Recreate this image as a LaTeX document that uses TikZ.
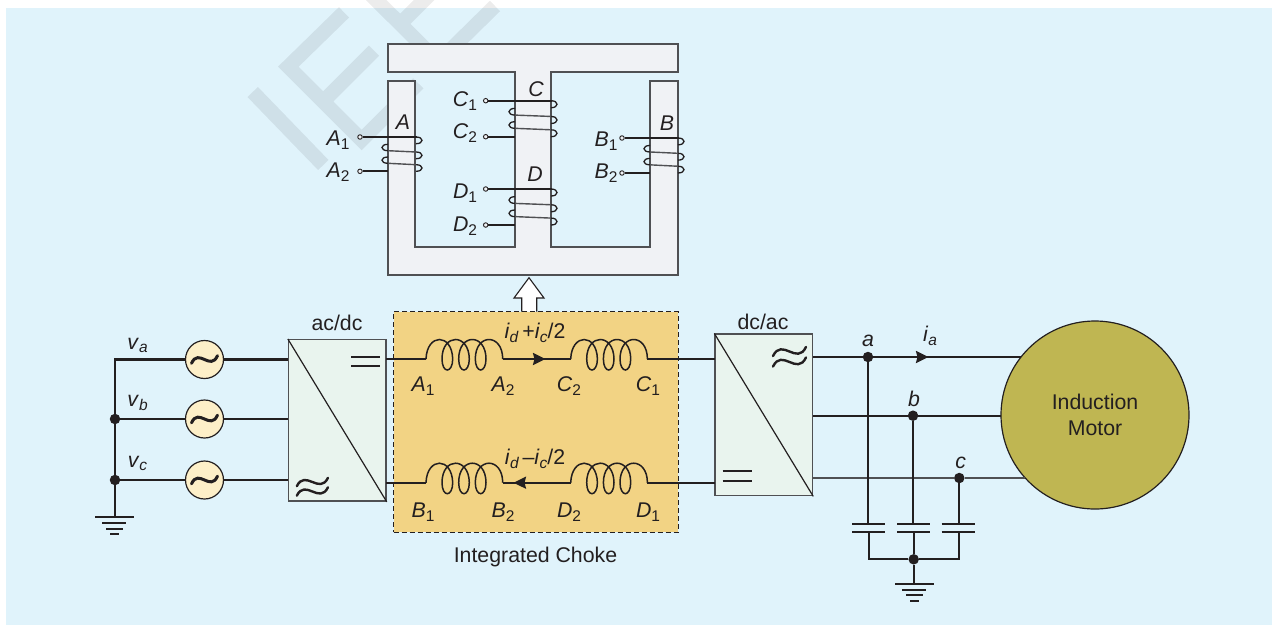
\documentclass[tikz,border=0pt]{standalone}
\usepackage{fontspec}
\setmainfont{Liberation Sans}
\usetikzlibrary{arrows.meta}
\definecolor{bgblue}{HTML}{E0F3FB}
\definecolor{inkc}{HTML}{231F20}
\definecolor{corefill}{HTML}{F0F2F5}
\definecolor{corerim}{HTML}{4F5053}
\definecolor{chokefill}{HTML}{F2D384}
\definecolor{convfill}{HTML}{E9F4EE}
\definecolor{srcfill}{HTML}{FDEFC8}
\definecolor{motorfill}{HTML}{BFB652}
\newcommand\lowtxt[1]{\raisebox{-0.32ex}{\fontsize{15.5}{16}\selectfont #1}}
\newcommand\symb[2]{\textit{#1}\lowtxt{#2}}
\newcommand\symi[2]{\textit{#1}\lowtxt{\textit{#2}}}
\tikzset{
  txt/.style={text=inkc,inner sep=0pt,font=\fontsize{21.3}{26}\selectfont},
  wire/.style={draw=inkc,line width=2.2pt},
  thinwire/.style={draw=corerim,line width=1.4pt},
  jdot/.style={circle,fill=inkc,inner sep=0pt,minimum size=10.5pt},
  termdot/.style={circle,draw=inkc,fill=corefill,line width=.9pt,inner sep=0pt,minimum size=4.5pt},
  srcnode/.style={circle,draw=inkc,fill=srcfill,line width=1.2pt,inner sep=0pt,minimum size=38pt},
  conv/.style={rectangle,draw=corerim,fill=convfill,line width=1.4pt,inner sep=0pt,minimum width=97.5pt,minimum height=161.5pt},
  wave/.style={draw=inkc,line width=3pt,line cap=round},
  wavethin/.style={draw=inkc,line width=2.4pt,line cap=round},
  tip/.style={-{Stealth[length=12.5pt,width=12pt,inset=1.5pt]}},
  wm/.style={draw=black,opacity=.075,line width=14.5pt,line join=miter},
}
\newcommand\wavy[5][wave]{\draw[#1] (#2-#4,#3+.7*#5) .. controls (#2-.45*#4,#3-2.2*#5) and (#2+.45*#4,#3+2.2*#5) .. (#2+#4,#3-.7*#5);}
\newcommand\coil[3]{\begin{scope}[shift={(#2,#3)}]
  \coordinate (#1in) at (0,0); \coordinate (#1out) at (76.7,0);
  \draw[draw=inkc,line width=1.5pt] (0,0)
   .. controls (1,-26) and (26,-26) .. (26.7,0)
   .. controls (26.7,7) and (24,11) .. (21.3,11)
   .. controls (18.5,11) and (16,7) .. (16,0)
   .. controls (16,-26) and (43,-26) .. (43.3,0)
   .. controls (43.3,7) and (40.6,11) .. (38,11)
   .. controls (35.2,11) and (32.7,7) .. (32.7,0)
   .. controls (32.7,-26) and (60,-26) .. (60,0)
   .. controls (60,7) and (57.3,11) .. (54.7,11)
   .. controls (52,11) and (49.3,7) .. (49.3,0)
   .. controls (49.3,-26) and (76.7,-26) .. (76.7,0);
\end{scope}}
\newcommand\winding[6]{\begin{scope}[shift={(0,#4)},yscale=#6]
  \draw[draw=inkc,line width=1.3pt]
    (#3,0) .. controls (#3+8,0) and (#3+8,6.7) .. (#3,6.7)
    (#2,7.3) .. controls (#2-8,7.3) and (#2-8,13.7) .. (#2,13.7)
    (#3,15) .. controls (#3+8,15) and (#3+8,21.7) .. (#3,21.7)
    (#2,20) .. controls (#2-8,20) and (#2-8,26.3) .. (#2,26.3)
    (#3,27.7) .. controls (#3+8,27.7) and (#3+8,34.3) .. (#3,34.3);
  \draw[draw=corerim,line width=1.4pt] (#2,13.7) -- (#3,15) (#2,26.3) -- (#3,27.7);
  \node[termdot] (#1t1) at (#5,0) {};
  \node[termdot] (#1t2) at (#5,34.3) {};
  \coordinate (#1e1) at (#3+1,0);
  \coordinate (#1e2) at (#2,34.3);
\end{scope}
\draw[wire] (#1t1) -- (#1e1);
\draw[wire] (#1t2) -- (#1e2);}
\begin{document}
\begin{tikzpicture}[x=1pt,y=-1pt]
\useasboundingbox (0,0) rectangle (1272,625);
\fill[white] (0,0) rectangle (1272,625);
\fill[bgblue] (6,8) rectangle (1272,625);
\draw[wm] (252.7,92) -- (323.3,165)
  (344,12.3) -- (288.3,66.7) -- (361.7,140) -- (418.3,83.3)
  (323.2,101.5) -- (374,50.7)
  (360,-16) -- (438.3,61.7) -- (495,6)
  (400.3,23.7) -- (436,-12);
\filldraw[fill=corefill,draw=corerim,line width=1.4pt,line join=miter]
 (388,44) -- (678,44) -- (678,72) -- (551,72) -- (551,247) -- (650,247) -- (650,81) -- (678,81)
 -- (678,275) -- (388,275) -- (388,81) -- (415,81) -- (415,247) -- (515,247) -- (515,72) -- (388,72) -- cycle;
\winding{wa}{388}{416}{137}{360}{1}
\winding{wc}{515}{551}{100.7}{485.7}{1.05}
\winding{wd}{515}{551}{189}{485.7}{1.05}
\winding{wb}{650}{678}{138}{622}{1.02}
\node[txt] (cA) at (403,122) {\textit{A}};
\node[txt] (cC) at (536,89) {\textit{C}};
\node[txt] (cD) at (535,174) {\textit{D}};
\node[txt] (cB) at (667,123) {\textit{B}};
\node[txt] (lA1) at (338,140) {\symb{A}{1}};
\node[txt] (lA2) at (338,172) {\symb{A}{2}};
\node[txt] (lC1) at (465,101) {\symb{C}{1}};
\node[txt] (lC2) at (465,133) {\symb{C}{2}};
\node[txt] (lD1) at (465,193) {\symb{D}{1}};
\node[txt] (lD2) at (465,226) {\symb{D}{2}};
\node[txt] (lB1) at (606,141) {\symb{B}{1}};
\node[txt] (lB2) at (606,173) {\symb{B}{2}};
\filldraw[fill=white,draw=inkc,line width=1.1pt,line join=miter] (521.7,311.7) -- (521.7,298) -- (514,298) -- (529,277.7) -- (544,298) -- (536.7,298) -- (536.7,311.7);
\node[rectangle,draw=inkc,fill=chokefill,line width=1pt,dash pattern=on 5pt off 3pt,inner sep=0pt,minimum width=284.5pt,minimum height=220.5pt] (choke) at (535.9,421.9) {};
\node[txt] (chokelab) at (535.5,557) {Integrated Choke};
\coordinate (gl) at (115,517);
\node[srcnode] (sa) at (204.5,359.5) {};
\node[srcnode] (sb) at (204.5,419) {};
\node[srcnode] (sc) at (204.5,480) {};
\coordinate (bustop) at (115,359.5);
\node[jdot] (jb) at (115,419) {};
\node[jdot] (jc) at (115,480) {};
\draw[wire] (115,358.4) -- (jb) -- (jc) -- (gl);
\draw[wire] (95,517) -- (134,517) (102,523) -- (126,523) (106,529) -- (123,529) (110,534) -- (119,534);
\wavy{204.5}{359.5}{13}{5.5}
\wavy{204.5}{419}{13}{5.5}
\wavy{204.5}{480}{13}{5.5}
\node[conv] (acdc) at (337.3,420.4) {};
\node[conv] (dcac) at (763.8,414.9) {};
\draw[draw=inkc,line width=1.2pt] (acdc.north west) -- (acdc.south east);
\draw[draw=inkc,line width=1.2pt] (dcac.north west) -- (dcac.south east);
\draw[wire] (bustop) -- (sa);
\draw[wire] (jb) -- (sb);
\draw[wire] (jc) -- (sc);
\draw[wire] (sa.east) -- (sa.east -| acdc.west);
\draw[wire] (sb.east) -- (sb.east -| acdc.west);
\draw[wire] (sc.east) -- (sc.east -| acdc.west);
\draw[wire] (351,356.7) -- (380,356.7) (351,366) -- (380,366);
\wavy[wavethin]{312.4}{482}{15.6}{6}
\wavy[wavethin]{312.4}{491.5}{15.6}{6}
\draw[wire] (722.7,470.7) -- (752,470.7) (722.7,480.7) -- (752,480.7);
\wavy[wavethin]{789.5}{351.5}{16.5}{6.5}
\wavy[wavethin]{789.5}{362}{16.5}{6.5}
\node[txt] (acl) at (337,322.5) {ac/dc};
\node[txt] (dcl) at (763,321.5) {dc/ac};
\node[txt] (va) at (137.5,345.5) {\symi{v}{a}};
\node[txt] (vb) at (137.5,403) {\symi{v}{b}};
\node[txt] (vc) at (137.5,463.5) {\symi{v}{c}};
\coil{ca}{426}{359}
\coil{cc}{570.7}{359}
\coil{cb}{426}{482.7}
\coil{cd}{570.7}{482.7}
\draw[wire] (386,359) -- (cain);
\draw[wire] (caout) -- (ccin);
\draw[wire] (ccout) -- (714.7,359);
\draw[wire] (386,482.7) -- (cbin);
\draw[wire] (cbout) -- (cdin);
\draw[wire] (cdout) -- (714.7,482.7);
\coordinate (tipt) at (545.5,359);
\coordinate (tipb) at (513.5,482.7);
\draw[wire,tip] (caout) -- (tipt);
\draw[wire,tip] (cdin) -- (tipb);
\node[txt] (n1) at (423,386) {\symb{A}{1}};
\node[txt] (n2) at (503,386) {\symb{A}{2}};
\node[txt] (n3) at (569,386) {\symb{C}{2}};
\node[txt] (n4) at (648,386) {\symb{C}{1}};
\node[txt] (n5) at (423,512) {\symb{B}{1}};
\node[txt] (n6) at (503,512) {\symb{B}{2}};
\node[txt] (n7) at (569,512) {\symb{D}{2}};
\node[txt] (n8) at (648,512) {\symb{D}{1}};
\node[txt] (it) at (535,333) {\symi{i}{d}\,+\symi{i}{c}/2};
\node[txt] (ib) at (535,459) {\symi{i}{d}\,–\symi{i}{c}/2};
\node[circle,draw=inkc,fill=motorfill,line width=1.2pt,inner sep=0pt,minimum size=188pt,txt,align=center] (mot) at (1095,415) {Induction\\Motor};
\node[jdot] (ja) at (868,357) {};
\node[jdot] (jbb) at (913,415.7) {};
\node[jdot] (jcc) at (959.3,478) {};
\coordinate (ma) at (1021,357);
\coordinate (mb) at (1001,415.7);
\coordinate (mc) at (1025,478);
\draw[wire] (813,357) -- (ja) -- (ma);
\draw[wire] (813,415.7) -- (jbb) -- (mb);
\draw[thinwire] (813,478) -- (jcc) -- (mc);
\coordinate (tipi) at (928.5,357);
\draw[wire,tip] (ja) -- (tipi);
\node[txt] (ial) at (930,336) {\symi{i}{a}};
\node[txt] (al) at (868,341) {\textit{a}};
\node[txt] (bl) at (914,399) {\textit{b}};
\node[txt] (cl) at (960.7,463) {\textit{c}};
\coordinate (capa) at (868,523.7);
\coordinate (capb) at (913,523.7);
\coordinate (capc) at (959.3,523.7);
\draw[wire] (ja) -- (capa) (jbb) -- (capb) (jcc) -- (capc);
\draw[wire] (852,523.7) -- (885,523.7) (852,531.7) -- (885,531.7)
            (897,523.7) -- (930,523.7) (897,531.7) -- (930,531.7)
            (941.7,523.7) -- (975,523.7) (941.7,531.7) -- (975,531.7);
\node[jdot] (jg) at (913.7,559.3) {};
\coordinate (gr) at (913.7,583.7);
\draw[wire,line join=miter] (869,531.7) |- (jg);
\draw[wire,line join=miter] (959,531.7) |- (jg);
\draw[wire] (913.7,531.7) -- (jg) -- (gr);
\draw[wire] (895,583.7) -- (934,583.7) (902,590) -- (926,590) (906,595) -- (923,595) (910,601) -- (919,601);
\end{tikzpicture}
\end{document}
